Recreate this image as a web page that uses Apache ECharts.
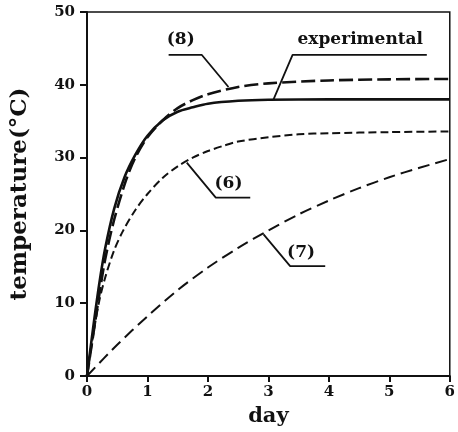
<!DOCTYPE html>
<html>
<head>
<meta charset="utf-8">
<script src="https://cdn.jsdelivr.net/npm/echarts@6/dist/echarts.min.js"></script>
<style>html,body{margin:0;padding:0;background:#fff;}#c{width:458px;height:432px;}</style>
</head>
<body>
<div id="c"></div>
<script>
// ---- data ----
const xTicks = [0, 1, 2, 3, 4, 5, 6];
const yTicks = [0, 10, 20, 30, 40, 50];

const expDays = [0, 0.1, 0.2, 0.3, 0.45, 0.62, 0.8, 1.0, 1.25, 1.5, 1.75, 2, 2.5, 3, 4, 6];
const expTemp = [0, 6.5, 12.5, 17.5, 23, 27.3, 30.4, 33, 35.1, 36.3, 36.9, 37.4, 37.8, 37.95, 38, 38];

const eq8Days = [0, 0.1, 0.2, 0.3, 0.45, 0.65, 0.8, 1.0, 1.25, 1.5, 1.75, 2, 2.5, 3, 4, 5, 6];
const eq8Temp = [0, 5.5, 11, 16, 21.5, 27, 30, 32.8, 35.1, 36.8, 37.9, 38.7, 39.7, 40.2, 40.6, 40.75, 40.8];

const eq6Days = [0, 0.1, 0.2, 0.3, 0.45, 0.6, 0.8, 1.0, 1.25, 1.5, 1.75, 2, 2.25, 2.5, 3, 3.5, 4, 5, 6];
const eq6Temp = [0, 5.5, 10.2, 13.5, 17.3, 20, 22.8, 25, 27.2, 28.8, 30, 30.9, 31.6, 32.2, 32.8, 33.2, 33.35, 33.5, 33.6];

const eq7Days = [0, 0.5, 1, 1.5, 2, 2.5, 3, 3.5, 4, 4.5, 5, 5.5, 6];
const eq7Temp = [0, 4.3, 8.2, 11.8, 14.9, 17.6, 20, 22.2, 24.1, 25.8, 27.3, 28.6, 29.8];

// annotation labels and their leader lines (data coordinates)
const labelTexts = ['(8)', 'experimental', '(6)', '(7)'];
const labelPos = [[1.55, 46.2], [4.52, 46.2], [2.34, 26.4], [3.54, 17.0]];
const leaderLines = [
  [[1.35, 44.1], [1.9, 44.1], [2.34, 39.7]],
  [[5.62, 44.1], [3.4, 44.1], [3.08, 37.9]],
  [[2.70, 24.5], [2.13, 24.5], [1.65, 29.3]],
  [[3.94, 15.1], [3.36, 15.1], [2.92, 19.45]]
];

const zip = (a, b) => a.map((v, i) => [v, b[i]]);
const FONT = '"DejaVu Serif", "Liberation Serif", serif';
const INK = '#111';

const series = [
  { name: 'experimental', type: 'line', data: zip(expDays, expTemp), smooth: 0.3, symbol: 'none',
    lineStyle: { color: INK, width: 2.6, type: 'solid' }, z: 5 },
  { name: '(8)', type: 'line', data: zip(eq8Days, eq8Temp), smooth: 0.3, symbol: 'none',
    lineStyle: { color: INK, width: 2.6, type: [14, 5] }, z: 4 },
  { name: '(6)', type: 'line', data: zip(eq6Days, eq6Temp), smooth: 0.3, symbol: 'none',
    lineStyle: { color: INK, width: 2, type: [8, 4] }, z: 4 },
  { name: '(7)', type: 'line', data: zip(eq7Days, eq7Temp), smooth: 0.3, symbol: 'none',
    lineStyle: { color: INK, width: 2, type: [12, 6] }, z: 4 }
];

leaderLines.forEach((pts) => {
  series.push({ type: 'line', data: pts, symbol: 'none', silent: true,
    lineStyle: { color: INK, width: 1.8 }, z: 6 });
});

series.push({
  type: 'scatter', symbolSize: 0, silent: true, z: 7,
  itemStyle: { color: INK, opacity: 1 },
  data: labelPos.map((p, i) => ({ value: p, name: labelTexts[i] })),
  label: { show: true, position: 'inside', formatter: (p) => p.name,
    fontFamily: FONT, fontWeight: 'bold', fontSize: 17, color: INK, opacity: 1,
    textBorderWidth: 0, textBorderColor: 'transparent' }
});

const chart = echarts.init(document.getElementById('c'), null, { renderer: 'canvas' });
chart.setOption({
  animation: false,
  backgroundColor: '#fff',
  grid: { left: 87, right: 6, top: 12, bottom: 55, show: true, borderColor: INK, borderWidth: 1.5, containLabel: false },
  xAxis: {
    type: 'value', min: xTicks[0], max: xTicks[xTicks.length - 1], interval: 1,
    name: 'day', nameLocation: 'middle', nameGap: 30,
    nameTextStyle: { fontFamily: FONT, fontWeight: 'bold', fontSize: 21, color: INK },
    axisLine: { show: true, lineStyle: { color: INK, width: 2 } },
    axisTick: { show: true, inside: false, length: 6, lineStyle: { color: INK, width: 2 } },
    axisLabel: { fontFamily: FONT, fontWeight: 'bold', fontSize: 15, color: INK, margin: 9 },
    splitLine: { show: false }
  },
  yAxis: {
    type: 'value', min: yTicks[0], max: yTicks[yTicks.length - 1], interval: 10,
    name: 'temperature(°C)', nameLocation: 'middle', nameGap: 55, nameRotate: 90,
    nameTextStyle: { fontFamily: FONT, fontWeight: 'bold', fontSize: 23, color: INK },
    axisLine: { show: true, lineStyle: { color: INK, width: 2 } },
    axisTick: { show: true, inside: false, length: 7, lineStyle: { color: INK, width: 2 } },
    axisLabel: { fontFamily: FONT, fontWeight: 'bold', fontSize: 15, color: INK, margin: 12 },
    splitLine: { show: false }
  },
  series: series
});
</script>
</body>
</html>
